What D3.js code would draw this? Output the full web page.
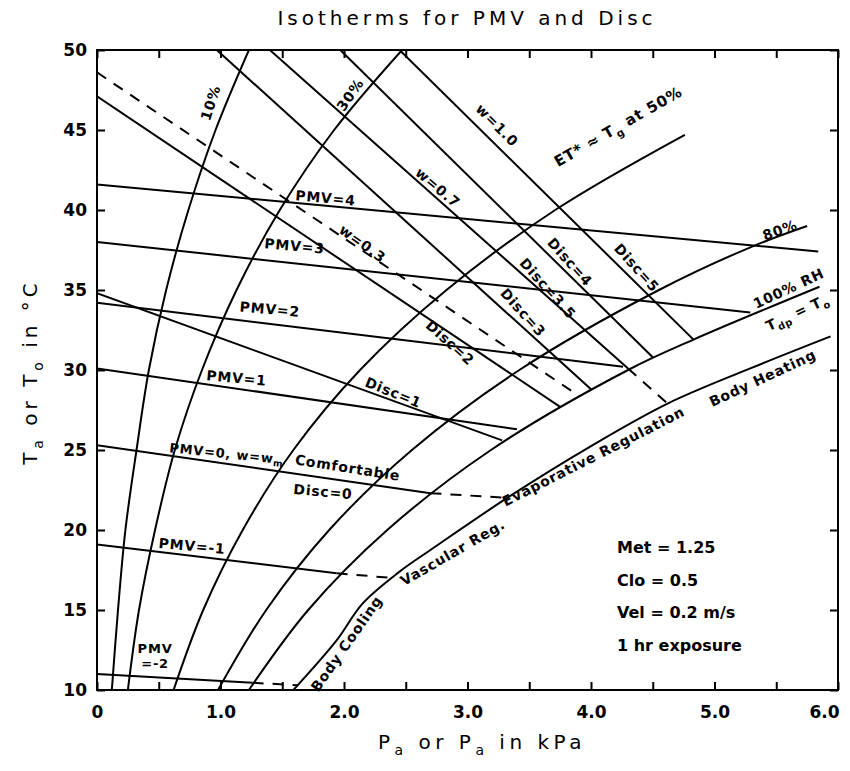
<!DOCTYPE html>
<html>
<head>
<meta charset="utf-8">
<script src="https://cdn.jsdelivr.net/npm/d3@7"></script>
<style>
body { margin: 0; background: #fff; }
text { font-family: "DejaVu Sans", sans-serif; fill: #000; }
</style>
</head>
<body>
<svg id="chart" width="850" height="771"></svg>
<script>
// axis ticks
const xTicks = [0, 0.5, 1, 1.5, 2, 2.5, 3, 3.5, 4, 4.5, 5, 5.5, 6];
const xTickLabels = ["0", "1.0", "2.0", "3.0", "4.0", "5.0", "6.0"];
const yTicks = [10, 15, 20, 25, 30, 35, 40, 45, 50];

// relative humidity curves, [Pa in kPa, Ta in C]
const rh10 = [[0.12, 10], [0.17, 15], [0.23, 20], [0.32, 25], [0.42, 30], [0.56, 35], [0.74, 40], [0.96, 45], [1.23, 50]];
const rh20 = [[0.25, 10], [0.34, 15], [0.47, 20], [0.63, 25], [0.85, 30], [1.13, 35], [1.48, 40], [1.92, 45], [2.47, 50]];
const rh50 = [[0.62, 10], [0.86, 15], [1.18, 20], [1.59, 25], [2.13, 30], [2.83, 35], [3.71, 40], [4.76, 44.7]];
const rh80 = [[0.98, 10], [1.37, 15], [1.88, 20], [2.55, 25], [3.42, 30], [4.55, 35], [5.3, 37.7], [5.75, 39.0]];
const rh100 = [[1.23, 10], [1.71, 15], [2.35, 20], [3.19, 25], [4.3, 30], [4.83, 31.9], [5.85, 35.2]];
// limit of regulation (body cooling / body heating)
const regLimit = [[1.59, 10], [1.94, 13.1], [2.15, 15.4], [2.45, 17.4], [2.70, 18.75], [3.34, 22.1],
  [3.99, 25.2], [4.62, 27.9], [5.29, 30.1], [5.94, 32.1]];

// PMV isotherms
const pmv4 = [[0, 41.6], [5.84, 37.4]];
const pmv3 = [[0, 38.0], [5.29, 33.6]];
const pmv2 = [[0, 34.2], [4.26, 30.2]];
const pmv1 = [[0, 30.1], [3.4, 26.3]];
const pmv0 = [[0, 25.3], [2.70, 22.3]];
const pmv0Ext = [[2.70, 22.3], [3.34, 22.0]];
const pmvM1 = [[0, 19.1], [1.94, 17.3]];
const pmvM1Ext = [[1.94, 17.3], [2.39, 17.0]];
const pmvM2 = [[0, 11.0], [1.26, 10.45]];
const pmvM2Ext = [[1.26, 10.45], [1.63, 10.3]];

// Disc and skin wettedness lines
const disc1 = [[0, 34.8], [3.28, 25.6]];
const disc2 = [[0, 47.1], [3.75, 27.7]];
const wet03 = [[0, 48.6], [3.88, 28.5]];
const disc3 = [[0.97, 50], [4.0, 28.8]];
const disc35 = [[1.40, 50], [4.3, 30.1]];
const disc35Ext = [[4.3, 30.1], [4.62, 27.9]];
const disc4 = [[1.97, 50], [4.5, 30.8]];
const disc5 = [[2.45, 50], [4.83, 31.9]];

const solidLines = [rh10, rh20, rh50, rh80, rh100, regLimit, pmv4, pmv3, pmv2, pmv1, pmv0, pmvM1, pmvM2,
  disc1, disc2, disc3, disc35, disc4, disc5];
const curvedLines = [rh10, rh20, rh50, rh80, rh100, regLimit];
const dashedLines = [pmv0Ext, pmvM1Ext, pmvM2Ext, wet03, disc35Ext];

// labels: text parts ([string, subscript?]), position in chart units, angle, size
const labels = [
  {t: [["10%"]], p: 0.92, v: 46.7, a: -72, s: 14},
  {t: [["30%"]], p: 2.05, v: 47.2, a: -55, s: 14},
  {t: [["w=0.3"]], p: 2.15, v: 37.9, a: 36, s: 14},
  {t: [["PMV=4"]], p: 1.85, v: 40.75, a: 5, s: 14},
  {t: [["PMV=3"]], p: 1.6, v: 37.75, a: 5, s: 14},
  {t: [["PMV=2"]], p: 1.40, v: 33.8, a: 5, s: 14},
  {t: [["PMV=1"]], p: 1.13, v: 29.5, a: 5, s: 14},
  {t: [["PMV=0, w=w"], ["m", 1]], p: 1.05, v: 24.8, a: 6, s: 13},
  {t: [["Comfortable"]], p: 2.03, v: 23.9, a: 9, s: 14},
  {t: [["Disc=0"]], p: 1.83, v: 22.4, a: 5, s: 14},
  {t: [["Disc=1"]], p: 2.40, v: 28.6, a: 22, s: 14},
  {t: [["Disc=2"]], p: 2.86, v: 31.7, a: 42, s: 14},
  {t: [["w=1.0"]], p: 3.24, v: 45.3, a: 45, s: 14},
  {t: [["ET* \u2248 T"], ["g", 1], [" at 50%"]], p: 4.22, v: 45.2, a: -30, s: 15},
  {t: [["w=0.7"]], p: 2.76, v: 41.4, a: 40, s: 14},
  {t: [["Disc=4"]], p: 3.83, v: 36.75, a: 48, s: 14},
  {t: [["Disc=5"]], p: 4.37, v: 36.4, a: 48, s: 14},
  {t: [["Disc=3.5"]], p: 3.65, v: 35.1, a: 48, s: 14},
  {t: [["Disc=3"]], p: 3.45, v: 33.6, a: 48, s: 14},
  {t: [["80%"]], p: 5.53, v: 38.75, a: -20, s: 14},
  {t: [["100% RH"]], p: 5.6, v: 35.1, a: -25, s: 14},
  {t: [["T"], ["dp", 1], [" = T"], ["o", 1]], p: 5.67, v: 33.6, a: -25, s: 14},
  {t: [["Body Heating"]], p: 5.39, v: 29.5, a: -25, s: 14},
  {t: [["Evaporative Regulation"]], p: 4.02, v: 24.6, a: -27, s: 14},
  {t: [["Vascular Reg."]], p: 2.88, v: 18.6, a: -30, s: 14},
  {t: [["Body Cooling"]], p: 2.02, v: 12.9, a: -55, s: 14},
  {t: [["PMV=-1"]], p: 0.77, v: 19.0, a: 5, s: 14},
  {t: [["PMV"]], p: 0.47, v: 12.6, a: 0, s: 13},
  {t: [["=-2"]], p: 0.47, v: 11.7, a: 0, s: 13}
];

const conditions = ["Met = 1.25", "Clo = 0.5", "Vel = 0.2 m/s", "1 hr exposure"];

const svg = d3.select("#chart");
const x = d3.scaleLinear().domain([0, 6]).range([97, 838]);
const y = d3.scaleLinear().domain([10, 50]).range([690, 50]);

const straight = d3.line().x(d => x(d[0])).y(d => y(d[1]));
const smooth = d3.line().x(d => x(d[0])).y(d => y(d[1])).curve(d3.curveCatmullRom);

svg.append("defs").append("clipPath").attr("id", "plotclip")
  .append("rect")
  .attr("x", x(0)).attr("y", y(50))
  .attr("width", x(6) - x(0)).attr("height", y(10) - y(50));

const plot = svg.append("g").attr("clip-path", "url(#plotclip)");

plot.selectAll("path.solid")
  .data(solidLines)
  .join("path")
  .attr("class", "solid")
  .attr("d", d => curvedLines.includes(d) ? smooth(d) : straight(d))
  .attr("fill", "none")
  .attr("stroke", "#000")
  .attr("stroke-width", 2);

plot.selectAll("path.dashed")
  .data(dashedLines)
  .join("path")
  .attr("class", "dashed")
  .attr("d", straight)
  .attr("fill", "none")
  .attr("stroke", "#000")
  .attr("stroke-width", 2)
  .attr("stroke-dasharray", "11,9");

// frame
svg.append("rect")
  .attr("x", x(0)).attr("y", y(50))
  .attr("width", x(6) - x(0)).attr("height", y(10) - y(50))
  .attr("fill", "none").attr("stroke", "#000").attr("stroke-width", 2);

// axes with ticks pointing into the frame
const xAxis = svg.append("g")
  .attr("transform", `translate(0,${y(10)})`)
  .call(d3.axisBottom(x).tickValues(xTicks).tickSizeInner(-8).tickSizeOuter(0)
    .tickFormat(d => Number.isInteger(d) ? xTickLabels[d] : ""));
xAxis.select(".domain").remove();
xAxis.selectAll("line").attr("stroke-width", 2);
xAxis.selectAll("text").attr("y", 16)
  .attr("dx", d => d === 6 ? -14 : 0)
  .style("font-family", "DejaVu Sans").style("font-size", "17px").style("font-weight", "bold");

const xTop = svg.append("g")
  .attr("transform", `translate(0,${y(50)})`)
  .call(d3.axisTop(x).tickValues(xTicks).tickSizeInner(-8).tickSizeOuter(0).tickFormat(""));
xTop.select(".domain").remove();
xTop.selectAll("line").attr("stroke-width", 2);

const yAxis = svg.append("g")
  .attr("transform", `translate(${x(0)},0)`)
  .call(d3.axisLeft(y).tickValues(yTicks).tickSizeInner(-8).tickSizeOuter(0));
yAxis.select(".domain").remove();
yAxis.selectAll("line").attr("stroke-width", 2);
yAxis.selectAll("text").attr("x", -10)
  .style("font-family", "DejaVu Sans").style("font-size", "17px").style("font-weight", "bold");

const yRight = svg.append("g")
  .attr("transform", `translate(${x(6)},0)`)
  .call(d3.axisRight(y).tickValues(yTicks).tickSizeInner(-8).tickSizeOuter(0).tickFormat(""));
yRight.select(".domain").remove();
yRight.selectAll("line").attr("stroke-width", 2);

// line labels
function addText(g, parts, size) {
  const t = g.append("text")
    .attr("text-anchor", "middle")
    .attr("dominant-baseline", "central")
    .attr("font-size", size)
    .attr("font-weight", "bold")
    .attr("letter-spacing", 0.8);
  parts.forEach(p => {
    const s = t.append("tspan").text(p[0]);
    if (p[1]) s.attr("baseline-shift", "sub").attr("font-size", size * 0.7);
  });
  return t;
}

labels.forEach(l => {
  const g = svg.append("g")
    .attr("transform", `translate(${x(l.p)},${y(l.v)}) rotate(${l.a})`);
  addText(g, l.t, l.s);
});

// conditions box
conditions.forEach((c, i) => {
  svg.append("text")
    .attr("x", 617).attr("y", 553 + i * 32.5)
    .attr("font-size", 16)
    .attr("font-weight", "bold")
    .text(c);
});

// title and axis titles
addText(svg.append("g").attr("transform", "translate(467,18)"), [["Isotherms for PMV and Disc"]], 20)
  .attr("font-weight", "normal").attr("letter-spacing", 4);

addText(svg.append("g").attr("transform", "translate(482,742)"),
  [["P"], ["a", 1], [" or P"], ["a", 1], [" in kPa"]], 20)
  .attr("font-weight", "normal").attr("letter-spacing", 4.5);

addText(svg.append("g").attr("transform", "translate(30,372) rotate(-90)"),
  [["T"], ["a", 1], [" or T"], ["o", 1], [" in \u00b0C"]], 20)
  .attr("font-weight", "normal").attr("letter-spacing", 4);
</script>
</body>
</html>
